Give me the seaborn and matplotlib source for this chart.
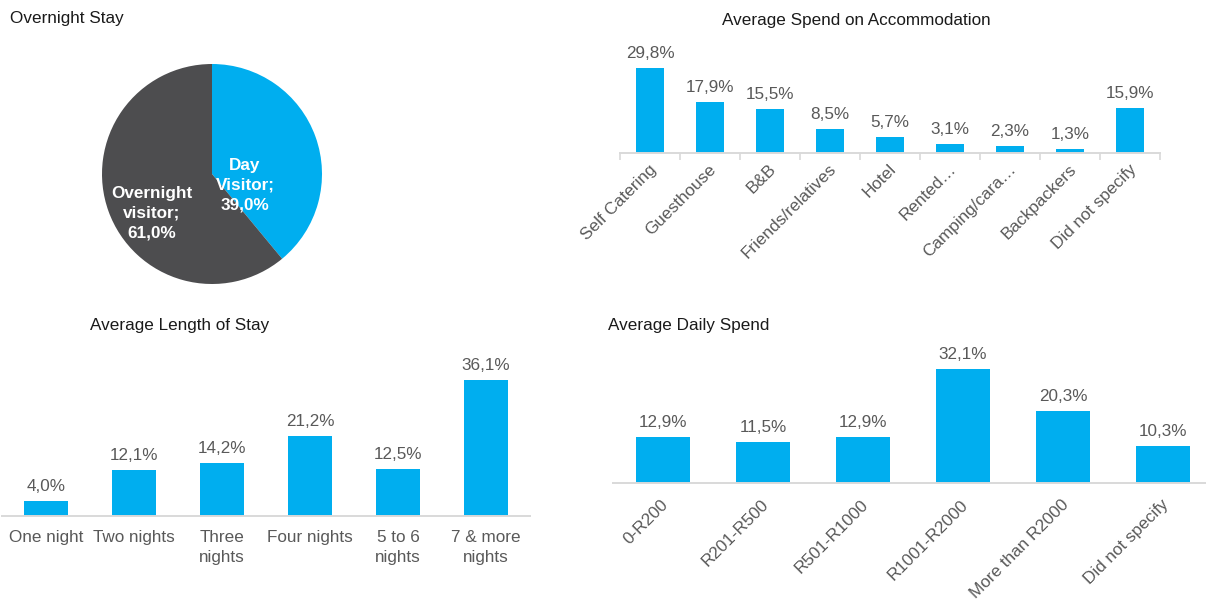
import matplotlib
matplotlib.use('Agg')
import matplotlib.pyplot as plt
import matplotlib.transforms as mtransforms
import seaborn as sns

# Data
pie_labels = ['Day\nVisitor;', 'Overnight\nvisitor;']
pie_vals = [39.0, 61.0]

acc_cats = ['Self Catering', 'Guesthouse', 'B&B', 'Friends/relatives', 'Hotel',
            'Rented…', 'Camping/cara…', 'Backpackers', 'Did not specify']
acc_vals = [29.8, 17.9, 15.5, 8.5, 5.7, 3.1, 2.3, 1.3, 15.9]

stay_cats = ['One night', 'Two nights', 'Three\nnights', 'Four nights',
             '5 to 6\nnights', '7 & more\nnights']
stay_vals = [4.0, 12.1, 14.2, 21.2, 12.5, 36.1]

spend_cats = ['0-R200', 'R201-R500', 'R501-R1000', 'R1001-R2000',
              'More than R2000', 'Did not specify']
spend_vals = [12.9, 11.5, 12.9, 32.1, 20.3, 10.3]

BLUE = '#00AEEF'
DARK = '#4D4D4F'
GREY_TXT = '#595959'
AXIS = '#D9D9D9'
FS = 12.3

sns.set_theme(style='white')
plt.rcParams['font.family'] = ['Liberation Sans', 'DejaVu Sans']

W, H = 1206, 599
fig = plt.figure(figsize=(W / 100, H / 100), dpi=100)


def pct(v):
    return f"{v:.1f}%".replace('.', ',')


def px_offset(dx, dy):
    return mtransforms.ScaledTranslation(dx / 100, dy / 100, fig.dpi_scale_trans)


def bar_panel(cats, vals, x0, x1, base, ppu, top, width):
    ax = fig.add_axes([x0 / W, 1 - base / H, (x1 - x0) / W, (base - top) / H])
    sns.barplot(x=cats, y=vals, color=BLUE, saturation=1, width=width,
                linewidth=0, ax=ax)
    ax.set_xlim(-0.5, len(cats) - 0.5)
    ax.set_ylim(0, (base - top) / ppu)
    ax.bar_label(ax.containers[0], labels=[pct(v) for v in vals], padding=5,
                 fontsize=FS, color=GREY_TXT)
    for s in ['top', 'right', 'left']:
        ax.spines[s].set_visible(False)
    ax.spines['bottom'].set_color(AXIS)
    ax.spines['bottom'].set_linewidth(1.4)
    ax.set_yticks([])
    ax.set_xlabel('')
    ax.set_ylabel('')
    ax.patch.set_alpha(0)
    ax.tick_params(axis='x', length=0, labelsize=FS, labelcolor=GREY_TXT)
    return ax


def rotate_labels(ax, pad, dx):
    ax.tick_params(axis='x', pad=pad)
    off = px_offset(dx, 0)
    for lbl in ax.get_xticklabels():
        lbl.set_rotation(45)
        lbl.set_ha('right')
        lbl.set_va('center')
        lbl.set_rotation_mode('anchor')
        lbl.set_transform(lbl.get_transform() + off)


# Overnight Stay pie
cx, cy, r = 212, 174, 110
axp = fig.add_axes([(cx - r) / W, 1 - (cy + r) / H, 2 * r / W, 2 * r / H])
axp.pie(pie_vals, colors=[BLUE, DARK], startangle=90, counterclock=False,
        wedgeprops=dict(linewidth=0))
axp.set_xlim(-1, 1)
axp.set_ylim(-1, 1)
axp.set_aspect('equal')
axp.text(0.30, -0.10, f"{pie_labels[0]}\n{pct(pie_vals[0])}", ha='center', va='center',
         color='white', fontsize=FS, fontweight='bold', linespacing=1.38)
axp.text(-0.545, -0.355, f"{pie_labels[1]}\n{pct(pie_vals[1])}", ha='center', va='center',
         color='white', fontsize=FS, fontweight='bold', linespacing=1.38)
fig.text(10 / W, 1 - 19 / H, 'Overnight Stay', ha='left', va='center',
         fontsize=FS, color='#1a1a1a')

# Average Spend on Accommodation
ax2 = bar_panel(acc_cats, acc_vals, 620, 1160, 153, 85 / 29.8, 40, 0.47)
ax2.set_xticks([i - 0.5 for i in range(len(acc_cats) + 1)], minor=True)
ax2.tick_params(axis='x', which='minor', length=5, width=1.2, color=AXIS,
                direction='out', bottom=True)
rotate_labels(ax2, 10, 4)
fig.text(856 / W, 1 - 20 / H, 'Average Spend on Accommodation', ha='center',
         va='center', fontsize=FS, color='#1a1a1a')

# Average Length of Stay
ax3 = bar_panel(stay_cats, stay_vals, 2, 530, 516, 136 / 36.1, 350, 0.51)
ax3.tick_params(axis='x', pad=10)
for lbl in ax3.get_xticklabels():
    lbl.set_linespacing(1.4)
fig.text(180 / W, 1 - 325 / H, 'Average Length of Stay', ha='center',
         va='center', fontsize=FS, color='#1a1a1a')

# Average Daily Spend
ax4 = bar_panel(spend_cats, spend_vals, 613, 1213, 483, 114 / 32.1, 340, 0.54)
rotate_labels(ax4, 14, 3)
fig.text(608 / W, 1 - 325 / H, 'Average Daily Spend', ha='left',
         va='center', fontsize=FS, color='#1a1a1a')

fig.savefig('out.png', dpi=100)
